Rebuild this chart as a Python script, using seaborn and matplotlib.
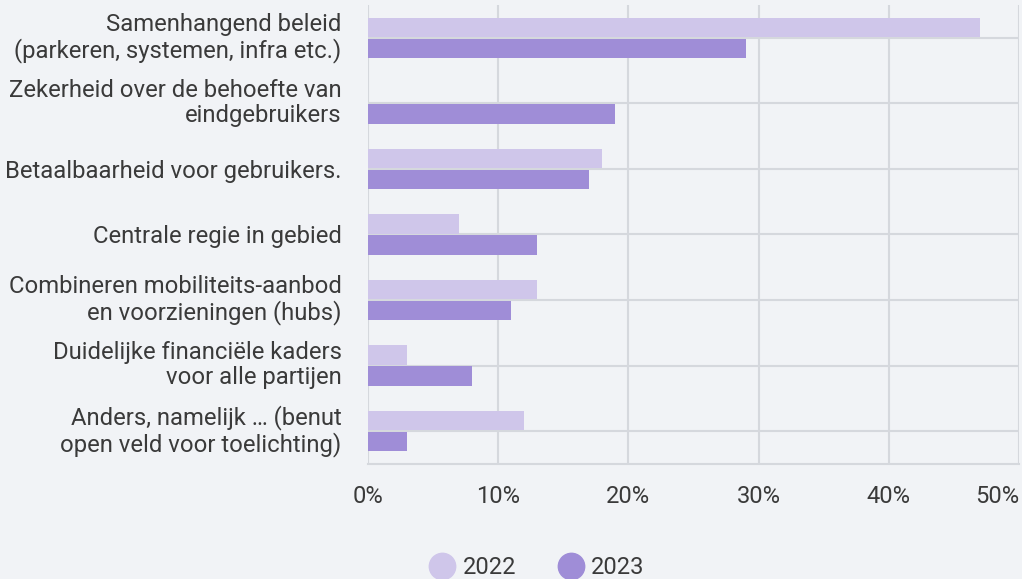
import seaborn as sns
import pandas as pd
from matplotlib import pyplot as plt
from matplotlib.lines import Line2D
from matplotlib.transforms import ScaledTranslation

# ---------------- data ----------------
categories = [
    'Samenhangend beleid\n(parkeren, systemen, infra etc.)',
    'Zekerheid over de behoefte van\neindgebruikers',
    'Betaalbaarheid voor gebruikers.',
    'Centrale regie in gebied',
    'Combineren mobiliteits-aanbod\nen voorzieningen (hubs)',
    'Duidelijke financiële kaders\nvoor alle partijen',
    'Anders, namelijk … (benut\nopen veld voor toelichting)',
]
years = ['2022', '2023']
values_2022 = [47, 0, 18, 7, 13, 3, 12]
values_2023 = [29, 19, 17, 13, 11, 8, 3]
x_ticks = [0, 10, 20, 30, 40, 50]
x_ticklabels = ['0%', '10%', '20%', '30%', '40%', '50%']

colors = ['#cfc6ea', '#9f8dd7']
bg = '#f1f3f6'
grid = '#d5d8dd'
txt = '#3a3a3a'
fs = 17.2

df = pd.DataFrame({
    'category': categories * 2,
    'year': [years[0]] * len(categories) + [years[1]] * len(categories),
    'value': values_2022 + values_2023,
})

# ---------------- plot ----------------
sns.set_theme(style='white')
plt.rcParams['font.family'] = ['Roboto', 'DejaVu Sans']

fig = plt.figure(figsize=(10.22, 5.79), dpi=100, facecolor=bg)
ax = fig.add_axes([0.36, 0.199, 0.637, 0.792])
ax.set_facecolor(bg)

sns.barplot(data=df, y='category', x='value', hue='year', orient='h',
            palette=colors, width=0.64, gap=0.06, ax=ax, legend=False,
            zorder=3, saturation=1, linewidth=0)

ax.set_xlim(0, 50)
ax.set_ylim(len(categories) - 0.5, -0.5)
ax.set_xticks(x_ticks)
ax.set_xticklabels(x_ticklabels, fontsize=17, color=txt)
ax.get_xticklabels()[-1].set_horizontalalignment('right')
ax.get_xticklabels()[-1].set_x(50.2)
ax.tick_params(axis='y', labelsize=fs, labelcolor=txt, length=0, pad=19)
ax.tick_params(axis='x', length=0, pad=15)
# two-line labels sit a little higher (descenders pull them down otherwise)
shift_up = ScaledTranslation(0, 3 / 72, fig.dpi_scale_trans)
for lbl in ax.get_yticklabels():
    lbl.set_horizontalalignment('right')
    lbl.set_multialignment('right')
    lbl.set_linespacing(1.13)
    if '\n' in lbl.get_text():
        lbl.set_transform(lbl.get_transform() + shift_up)

ax.grid(True, axis='both', color=grid, linewidth=1.5, zorder=0)
ax.set_axisbelow(True)
for s in ['top', 'right', 'left']:
    ax.spines[s].set_visible(False)
ax.spines['bottom'].set_color(grid)
ax.spines['bottom'].set_linewidth(1.5)
ax.set_xlabel('')
ax.set_ylabel('')

handles = [Line2D([0], [0], marker='o', linestyle='', markersize=19,
                  markerfacecolor=c, markeredgecolor=c) for c in colors]
fig.legend(handles, years, loc='center', bbox_to_anchor=(0.523, 0.02),
           ncol=2, frameon=False, fontsize=17, handlelength=1.5,
           handletextpad=0.1, columnspacing=1.57, labelcolor=txt)

fig.savefig('out.png', dpi=100, facecolor=bg)
